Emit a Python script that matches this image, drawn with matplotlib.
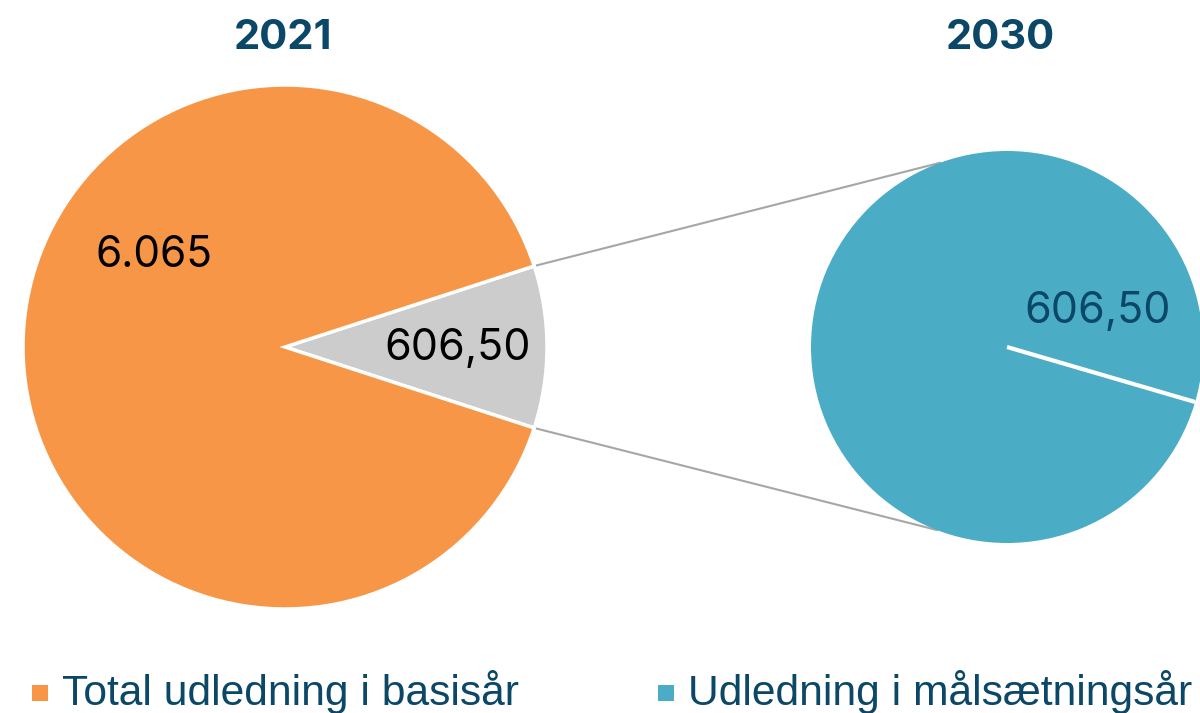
import numpy as np
import matplotlib
matplotlib.use('Agg')
import matplotlib.pyplot as plt

#%% data
years = ['2021', '2030']
total_udledning = 6065.0      # total udledning i basisår
maal_udledning = 606.50       # udledning i målsætningsår
value_labels = ['6.065', '606,50']
legend_labels = ['Total udledning i basisår', 'Udledning i målsætningsår']
colors = ['#F79646', '#4BACC6']
slice_gray = '#CCCCCC'
text_blue = '#0B4766'

#%% layout (pixel space, y points down)
W, H = 1200, 713
fig = plt.figure(figsize=(W / 100, H / 100), dpi=100)
ax = fig.add_axes([0, 0, 1, 1])

c1, r1 = (285, 347), 262
c2, r2 = (1007, 347), 196

# left pie: gray slice centred at 0 deg
frac = maal_udledning / total_udledning
half = frac * 180
ax.pie([maal_udledning, total_udledning - maal_udledning],
       colors=[slice_gray, colors[0]], startangle=-half, counterclock=True,
       center=c1, radius=r1,
       wedgeprops=dict(edgecolor='white', linewidth=2.5))

# right pie: one full wedge, seam drawn by hand
ax.pie([maal_udledning], colors=[colors[1]], center=c2, radius=r2,
       wedgeprops=dict(edgecolor=colors[1], linewidth=0))
seam = np.deg2rad(half - 1.7)
ax.plot([c2[0], c2[0] + r2 * np.cos(seam)], [c2[1], c2[1] + r2 * np.sin(seam)],
        color='white', lw=3, solid_capstyle='butt')

# connector lines
for s, a2 in [(1, 111), (-1, -110)]:
    a1 = np.deg2rad(s * half)
    b = np.deg2rad(a2)
    ax.plot([c1[0] + r1 * np.cos(a1), c2[0] + r2 * np.cos(b)],
            [c1[1] + r1 * np.sin(a1), c2[1] + r2 * np.sin(b)],
            color='#A6A6A6', lw=1.5, zorder=0)

ax.set_xlim(0, W)
ax.set_ylim(H, 0)
ax.set_aspect('equal')
ax.axis('off')

num_font = 'Inter'
ax.text(c1[0] - 0.61 * r1 * np.cos(np.deg2rad(35)), c1[1] - 0.61 * r1 * np.sin(np.deg2rad(35)),
        value_labels[0], fontsize=30.5, family=num_font, color='black', ha='center', va='center')
ax.text(c1[0] + 0.66 * r1, c1[1] + 2, value_labels[1], fontsize=31, family=num_font,
        color='black', ha='center', va='center')
ax.text(c2[0] + 0.5 * r2 * np.cos(np.deg2rad(23)), c2[1] - 0.5 * r2 * np.sin(np.deg2rad(23)) + 3,
        value_labels[1], fontsize=31, family=num_font, color=text_blue, ha='center', va='center')

# titles
for cx, yr in zip([283, 1000], years):
    ax.text(cx, 38, yr, fontsize=30, family='Inter', weight='bold', color=text_blue,
            ha='center', va='center')

# legend
for lx, col, lab in zip([40, 666], colors, legend_labels):
    ax.scatter([lx], [693], marker='s', s=140, color=col, linewidths=0, clip_on=False)
    ax.text(lx + 22, 705, lab, fontsize=30.7, family='Liberation Sans', color=text_blue,
            ha='left', va='baseline')

fig.savefig('out.png', dpi=100)
